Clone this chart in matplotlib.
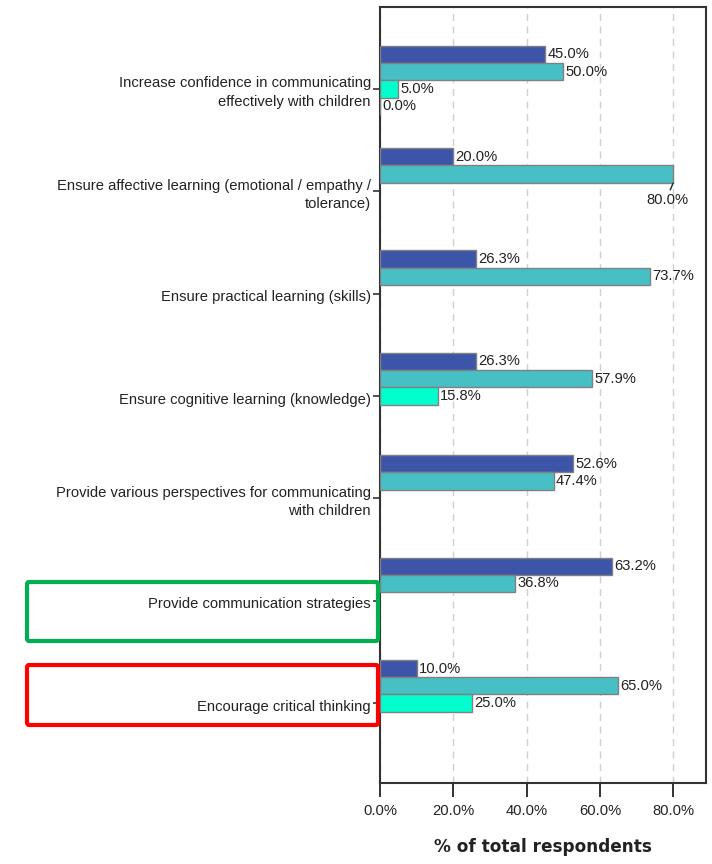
import matplotlib
matplotlib.use("Agg")
import matplotlib.pyplot as plt
from matplotlib import font_manager
from matplotlib.transforms import ScaledTranslation
from matplotlib.patches import FancyBboxPatch

# ---------------- data ----------------
categories = [
    "Increase confidence in communicating\neffectively with children",
    "Ensure affective learning (emotional / empathy /\ntolerance)",
    "Ensure practical learning (skills)",
    "Ensure cognitive learning (knowledge)",
    "Provide various perspectives for communicating\nwith children",
    "Provide communication strategies",
    "Encourage critical thinking",
]
series_1 = [45.0, 20.0, 26.3, 26.3, 52.6, 63.2, 10.0]
series_2 = [50.0, 80.0, 73.7, 57.9, 47.4, 36.8, 65.0]
series_3 = [5.0, None, None, 15.8, None, None, 25.0]
series_4 = [0.0, None, None, None, None, None, None]
series_values = [series_1, series_2, series_3, series_4]
series_colors = ["#3D55A8", "#46C0C4", "#00FFCC", "#7FE0D0"]
x_ticks = [0, 20, 40, 60, 80]
x_tick_labels = ["0.0%", "20.0%", "40.0%", "60.0%", "80.0%"]

# ---------------- fonts ----------------
avail = {f.name for f in font_manager.fontManager.ttflist}
if "Liberation Sans Narrow" in avail:
    lab_font, fs = "Liberation Sans Narrow", 12.4
else:
    lab_font, fs = "Liberation Sans", 10.6

W, H = 712, 864
fig = plt.figure(figsize=(W / 100, H / 100), dpi=100)
ax = fig.add_axes([380 / W, 1 - 783 / H, (706 - 380) / W, (783 - 7) / H])

bar_h = 0.169
for k, vals in enumerate(series_values):
    offs = (k - 2) * bar_h
    for i, v in enumerate(vals):
        if v is None:
            continue
        y = i + offs
        ax.barh(y, v, height=bar_h, color=series_colors[k], edgecolor="#808080",
                linewidth=1.0, zorder=3)
        txt = f"{v:.1f}%"
        if v >= 78:
            # label placed below the bar end with a short leader line
            ax.plot([v, v - 0.9], [y + bar_h / 2, y + bar_h / 2 + 0.075],
                    color="#333333", lw=1.1, zorder=4, solid_capstyle="butt")
            ax.text(v - 1.5, y + bar_h / 2 + 0.17, txt, ha="center", va="center",
                    fontsize=fs, family=lab_font, color="#222222", zorder=4)
        else:
            ax.text(v + 0.6, y, txt, ha="left", va="center", fontsize=fs,
                    family=lab_font, color="#222222", zorder=4)

ax.set_ylim(6.78, -0.80)
ax.set_xlim(0, 88.9)

ax.set_yticks(range(len(categories)))
ax.set_yticklabels([])
ax.tick_params(axis="y", length=5, width=1.2, color="#333333", direction="out")
off = ax.get_yaxis_transform() + ScaledTranslation(-9 / 100, -3.5 / 100, fig.dpi_scale_trans)
for i, c in enumerate(categories):
    ax.text(0, i, c, transform=off, ha="right", va="center", fontsize=fs,
            family=lab_font, color="#222222", linespacing=1.4, multialignment="right")

ax.set_xticks(x_ticks)
ax.set_xticklabels(x_tick_labels, fontsize=fs, family=lab_font, color="#222222")
ax.tick_params(axis="x", length=10, width=1.4, color="#333333", pad=5)
ax.xaxis.grid(True, linestyle=(0, (5, 4)), color="#CFCFCF", linewidth=1.0, zorder=0)
ax.set_axisbelow(True)
for s in ax.spines.values():
    s.set_linewidth(1.5)
    s.set_color("#333333")

fig.text(543 / W, 1 - 847 / H, "% of total respondents", ha="center", va="center",
         fontsize=12.2, fontweight="bold", family="DejaVu Sans", color="#222222")

# highlight boxes
for (y0, y1, col) in [(582, 641, "#00B050"), (665, 725, "#FF0000")]:
    p = FancyBboxPatch((27 / W, 1 - y1 / H), (378 - 27) / W, (y1 - y0) / H,
                       boxstyle="round,pad=0,rounding_size=0.003",
                       transform=fig.transFigure, fill=False, edgecolor=col,
                       linewidth=3.0, zorder=10)
    fig.patches.append(p)

fig.savefig("out.png", dpi=100)
